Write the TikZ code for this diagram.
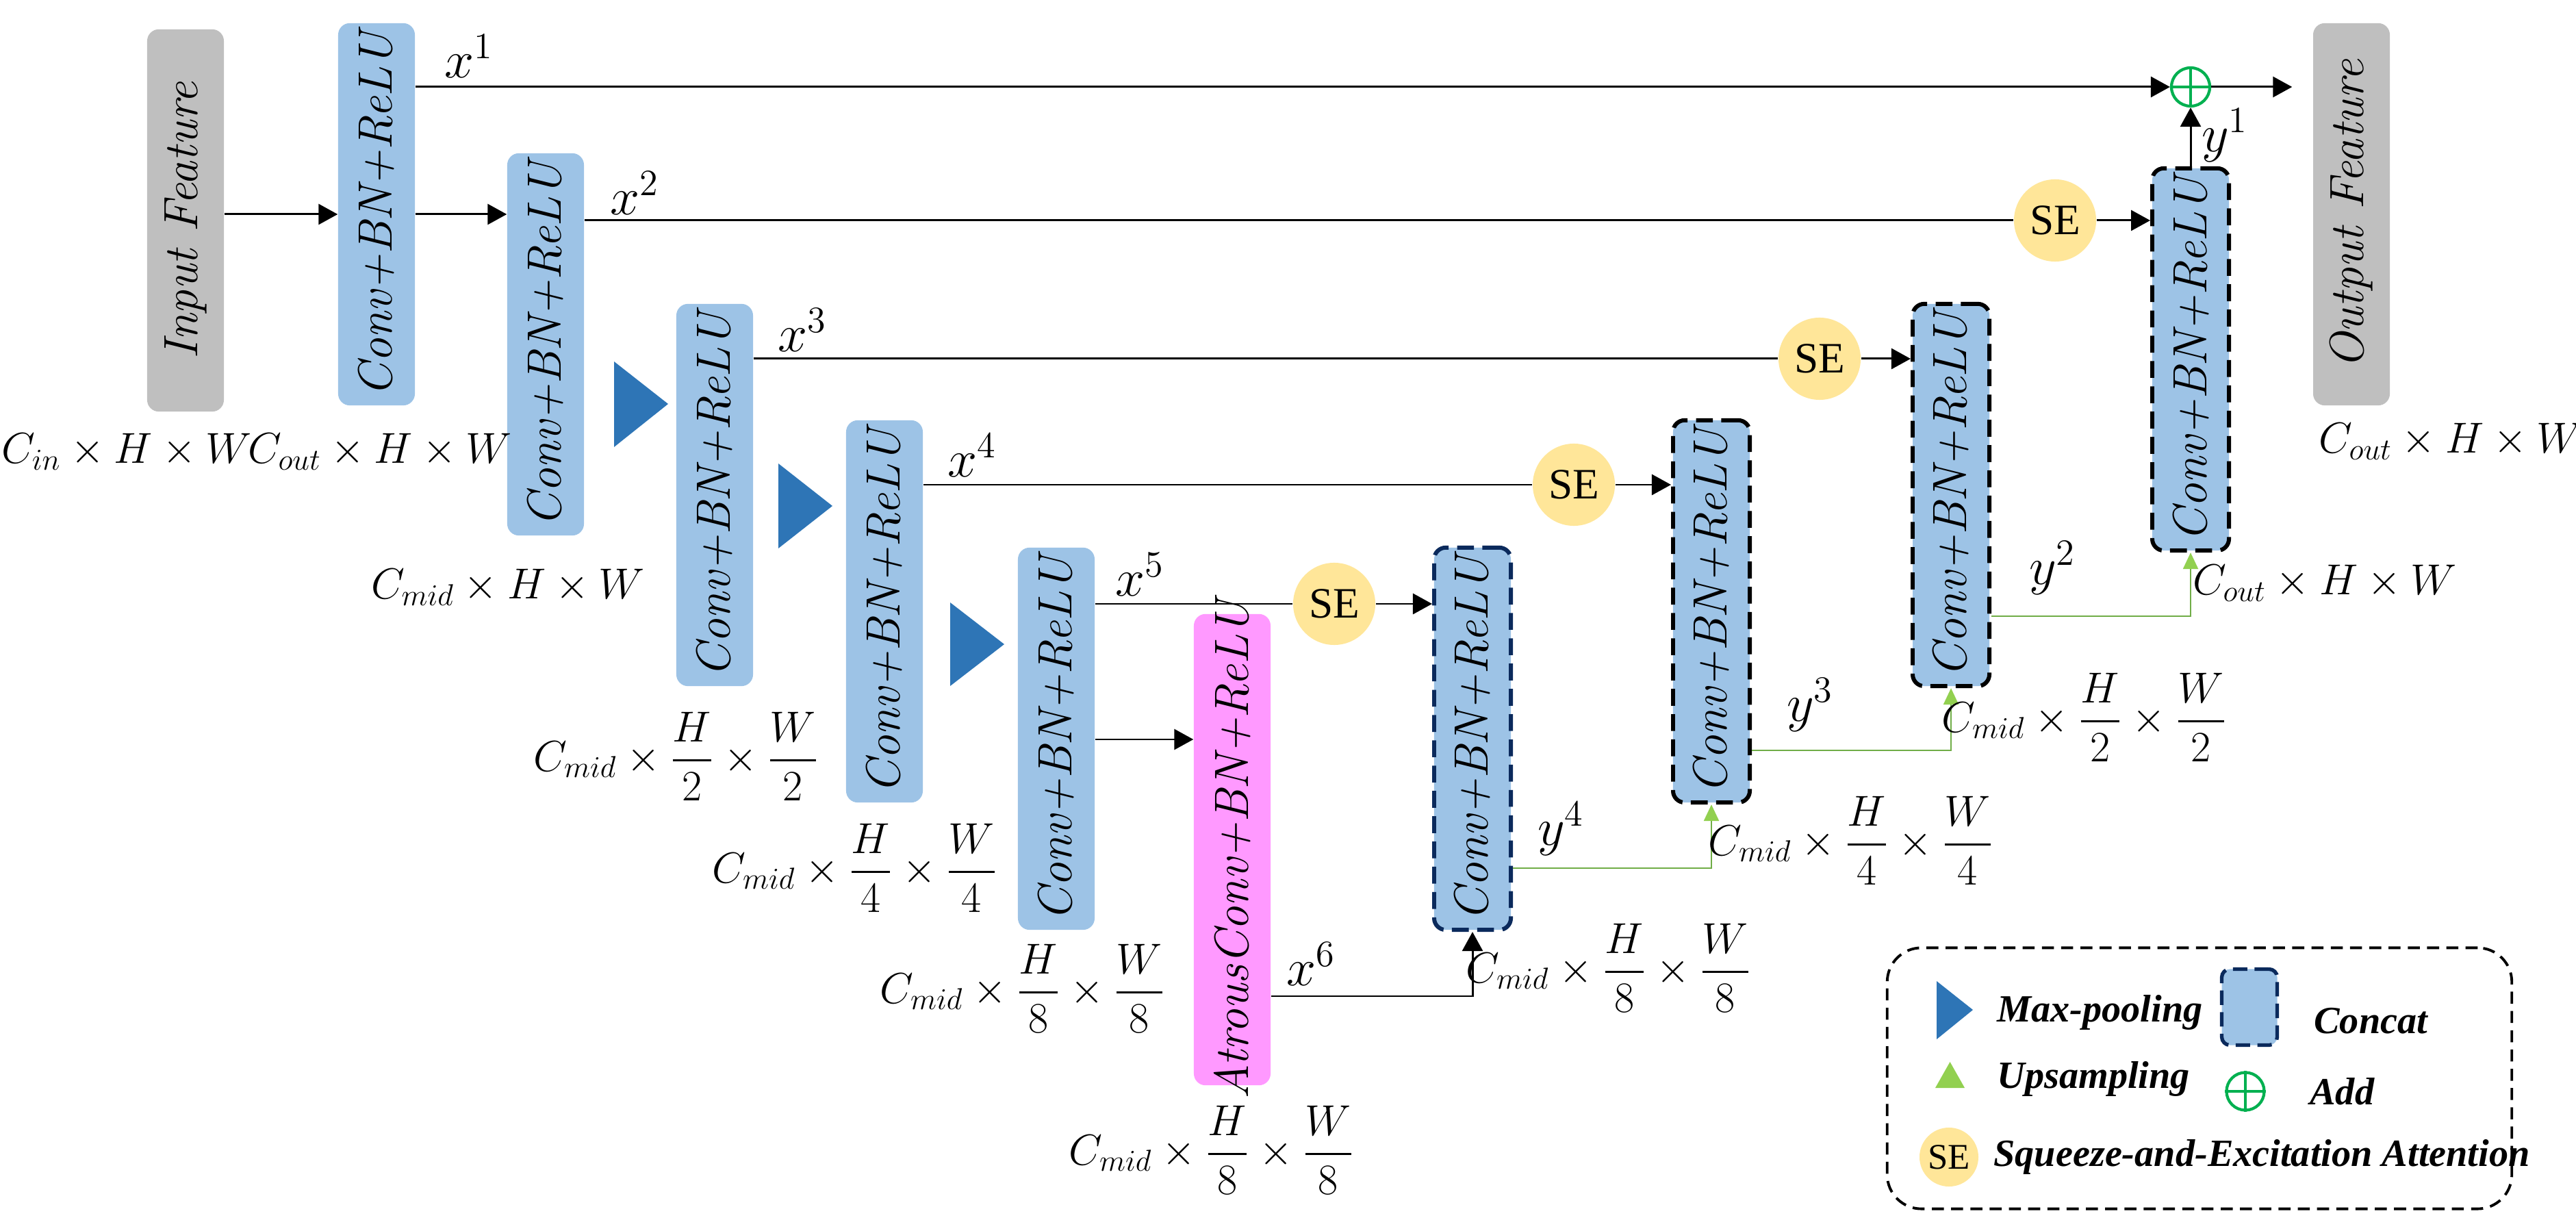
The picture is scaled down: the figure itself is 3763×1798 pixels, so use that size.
\RequirePackage{fix-cm}
\documentclass[tikz,border=0pt]{standalone}
\usepackage{fontspec}
\usepackage{amsmath}
\usetikzlibrary{arrows.meta}
\newfontfamily\lgd{Liberation Serif}
\definecolor{cblue}{HTML}{9DC3E6}
\definecolor{cgray}{HTML}{BFBFBF}
\definecolor{cpink}{HTML}{FF99FF}
\definecolor{sey}{HTML}{FFE699}
\definecolor{mpool}{HTML}{2E75B6}
\definecolor{gline}{HTML}{70AD47}
\definecolor{gtip}{HTML}{92D050}
\definecolor{addg}{HTML}{00B050}
\definecolor{navy}{HTML}{0B2A5C}
\begin{document}
\begin{tikzpicture}[x=0.01cm,y=-0.01cm,
  blk/.style={rectangle, rounded corners=0.17cm, minimum width=1.12cm, minimum height=5.58cm, inner sep=0},
  conv/.style={blk, fill=cblue},
  cat/.style={conv, draw=black, line width=1.7pt, dash pattern=on 7pt off 3.5pt},
  rt/.style={label={[rotate=90,font=\fontsize{20}{24}\selectfont\itshape]center:#1}},
  se/.style={circle, fill=sey, minimum size=1.2cm, inner sep=0, font=\lgd\fontsize{18}{20}\selectfont},
  arr/.style={line width=0.85pt, -{Triangle[length=0.28cm,width=0.3cm]}},
  ln/.style={line width=0.85pt},
  garr/.style={gline, line width=0.7pt, -{Triangle[length=0.24cm,width=0.22cm,color=gtip]}},
  dim/.style={font=\fontsize{18}{22}\selectfont},
  xl/.style={font=\fontsize{22}{26}\selectfont},
  lg/.style={font=\lgd\fontsize{16}{19}\selectfont\bfseries\itshape, anchor=west},
  mp/.style={fill=mpool}
]
\useasboundingbox (0,0) rectangle (3763,1798);
% boxes
\node[blk, fill=cgray, rt={Input Feature}] (In) at (271,322) {};
\node[conv, rt={Conv+BN+ReLU}] (C1) at (550,313) {};
\node[conv, rt={Conv+BN+ReLU}] (C2) at (797,503) {};
\node[conv, rt={Conv+BN+ReLU}] (C3) at (1044,723) {};
\node[conv, rt={Conv+BN+ReLU}] (C4) at (1292,893) {};
\node[conv, rt={Conv+BN+ReLU}] (C5) at (1543,1079) {};
\node[blk, fill=cpink, minimum height=6.88cm, rt={AtrousConv+BN+ReLU}] (At) at (1800,1241) {};
\node[cat, draw=navy, rt={Conv+BN+ReLU}] (Ca) at (2151,1079) {};
\node[cat, rt={Conv+BN+ReLU}] (Cb) at (2500,893) {};
\node[cat, rt={Conv+BN+ReLU}] (Cc) at (2850,723) {};
\node[cat, rt={Conv+BN+ReLU}] (Cd) at (3200,525) {};
\node[blk, fill=cgray, rt={Output Feature}] (Out) at (3435,313) {};
% SE
\node[se] (S1) at (3002,322) {SE};
\node[se] (S2) at (2658,524) {SE};
\node[se] (S3) at (2299,708) {SE};
\node[se] (S4) at (1949,882) {SE};
% add
\node[circle, draw=addg, line width=1.2pt, minimum size=0.56cm, inner sep=0] (Add) at (3200,127) {};
\draw[addg, line width=1.2pt] (Add.north) -- (Add.south) (Add.west) -- (Add.east);
% max pooling
\fill[mp] (897,528) -- (976,590) -- (897,653) -- cycle;
\fill[mp] (1137,677) -- (1216,739) -- (1137,801) -- cycle;
\fill[mp] (1388,880) -- (1467,941) -- (1388,1002) -- cycle;
% connectors
\draw[arr] (In.east|-C1) -- (C1.west);
\draw[arr] (C1.east) -- (C2.west|-C1);
\draw[arr] (C1.east|-Add) -- (Add.west);
\draw[arr, shorten >=0.3cm] (Add.east) -- (Out.west|-Add);
\draw[arr] (Cd.north) -- (Add.south);
\draw[ln] (C2.east|-S1) -- (S1.west);
\draw[arr] (S1.east) -- (Cd.west|-S1);
\draw[ln] (C3.east|-S2) -- (S2.west);
\draw[arr] (S2.east) -- (Cc.west|-S2);
\draw[ln] (C4.east|-S3) -- (S3.west);
\draw[arr] (S3.east) -- (Cb.west|-S3);
\draw[ln] (C5.east|-S4) -- (S4.west);
\draw[arr] (S4.east) -- (Ca.west|-S4);
\draw[arr] (C5.east|-0,1080) -- (At.west|-0,1080);
\draw[arr] (At.east|-0,1455) -| (Ca.south);
\draw[garr] (Ca.east|-0,1268) -| (Cb.south);
\draw[garr] (Cb.east|-0,1096) -| (Cc.south);
\draw[garr] (Cc.east|-0,900) -| (Cd.south);
% x / y labels
\node[xl] at (685,82) {$x^1$};
\node[xl] at (927,282) {$x^2$};
\node[xl] at (1172,482) {$x^3$};
\node[xl] at (1420,665) {$x^4$};
\node[xl] at (1665,839) {$x^5$};
\node[xl] at (1915,1408) {$x^6$};
\node[xl] at (3250,198) {$y^1$};
\node[xl] at (2998,830) {$y^2$};
\node[xl] at (2644,1030) {$y^3$};
\node[xl] at (2280,1211) {$y^4$};
% dimension labels
\node[dim] at (185,660) {$C_{in}\times H\times W$};
\node[dim] at (555,660) {$C_{out}\times H\times W$};
\node[dim] at (742,858) {$C_{mid}\times H\times W$};
\node[dim] at (988,1105) {$C_{mid}\times\dfrac{H}{2}\times\dfrac{W}{2}$};
\node[dim] at (1249,1268) {$C_{mid}\times\dfrac{H}{4}\times\dfrac{W}{4}$};
\node[dim] at (1494,1444) {$C_{mid}\times\dfrac{H}{8}\times\dfrac{W}{8}$};
\node[dim] at (1770,1680) {$C_{mid}\times\dfrac{H}{8}\times\dfrac{W}{8}$};
\node[dim] at (2350,1414) {$C_{mid}\times\dfrac{H}{8}\times\dfrac{W}{8}$};
\node[dim] at (2704,1228) {$C_{mid}\times\dfrac{H}{4}\times\dfrac{W}{4}$};
\node[dim] at (3045,1048) {$C_{mid}\times\dfrac{H}{2}\times\dfrac{W}{2}$};
\node[dim] at (3396,852) {$C_{out}\times H\times W$};
\node[dim] at (3580,645) {$C_{out}\times H\times W$};
% legend
\node[draw=black, line width=1.1pt, dash pattern=on 5pt off 3pt, rounded corners=0.5cm, minimum width=9.12cm, minimum height=3.81cm, inner sep=0] (Lg) at (3213,1575) {};
\fill[mp] (2829,1433) -- (2882,1475) -- (2829,1518) -- cycle;
\node[lg] (Lmp) at (2905,1479) {Max-pooling};
\node[conv, draw=navy, line width=1.5pt, dash pattern=on 6pt off 3pt, minimum width=0.81cm, minimum height=1.11cm, rounded corners=0.12cm] (Lcat) at (3286,1471) {};
\node[lg] (Lc) at (3368,1491) {Concat};
\fill[gtip] (2827,1589) -- (2848.5,1551) -- (2870,1589) -- cycle;
\node[lg] (Lup) at (2905,1576) {Upsampling};
\node[circle, draw=addg, line width=1.2pt, minimum size=0.55cm, inner sep=0] (Ladd) at (3280,1594) {};
\draw[addg, line width=1.2pt] (Ladd.north) -- (Ladd.south) (Ladd.west) -- (Ladd.east);
\node[lg] (La) at (3362,1594) {Add};
\node[se, minimum size=0.86cm, font=\lgd\fontsize{15}{17}\selectfont] (Lse) at (2847,1690) {SE};
\node[lg] (Ls) at (2900,1690) {Squeeze-and-Excitation Attention};
\end{tikzpicture}
\end{document}
